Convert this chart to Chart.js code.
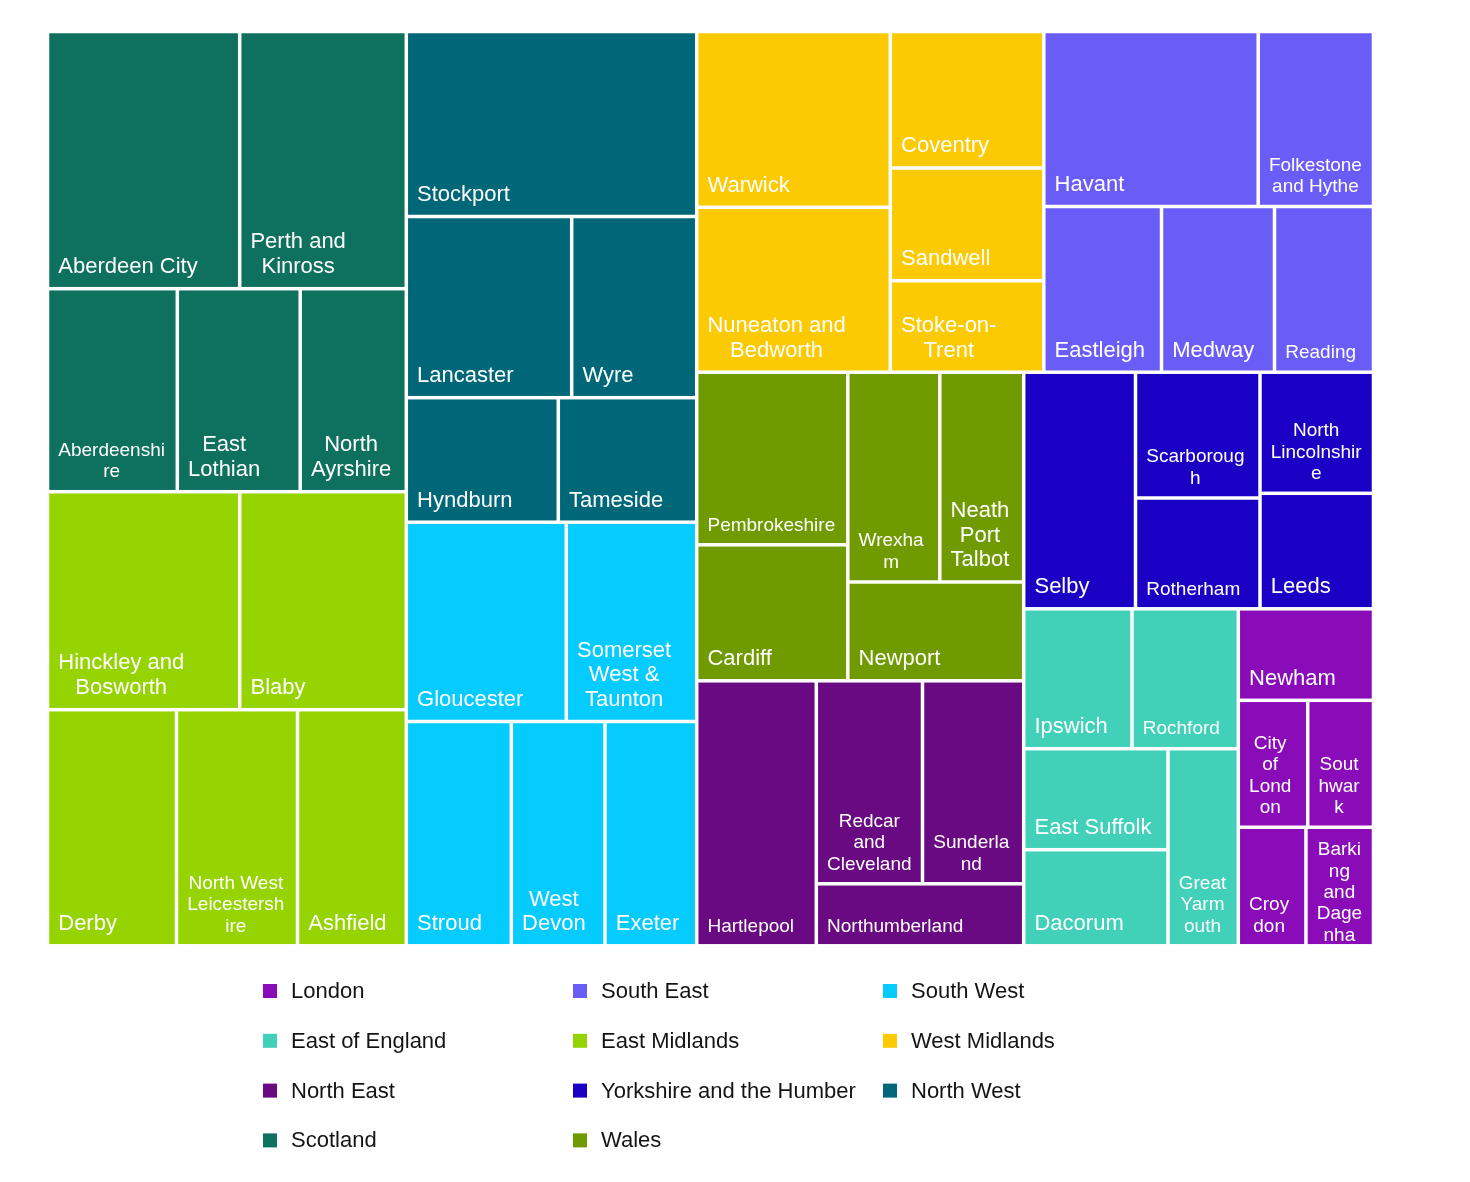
<!DOCTYPE html>
<html>
<head>
<meta charset="utf-8">
<script src="https://cdn.jsdelivr.net/npm/chart.js@4.4.1/dist/chart.umd.min.js"></script>
<style>
  html, body { margin: 0; background: #ffffff; }
</style>
</head>
<body>
<canvas id="treemap" width="1470" height="1182"></canvas>
<script>
// regions, in legend order
const regionNames = ['London', 'South East', 'South West', 'East of England', 'East Midlands',
  'West Midlands', 'North East', 'Yorkshire and the Humber', 'North West', 'Scotland', 'Wales'];
const regionColors = ['#8a0bb8', '#6a5cf6', '#05cbff', '#41d0b8', '#95d400',
  '#fbca03', '#6a0a82', '#1a00c4', '#006778', '#0d715e', '#709b00'];

// local areas and their values (arbitrary units)
const londonAreas = ['Newham', 'City of London', 'Southwark', 'Croydon', 'Barking and Dagenham'];
const londonValues = [12371, 8807, 8350, 8020, 8010];
const southEastAreas = ['Havant', 'Folkestone and Hythe', 'Eastleigh', 'Medway', 'Reading'];
const southEastValues = [37520, 20178, 19503, 18724, 16404];
const southWestAreas = ['Gloucester', 'Somerset West & Taunton', 'Stroud', 'West Devon', 'Exeter'];
const southWestValues = [31888, 25989, 23552, 21017, 20568];
const eastEnglandAreas = ['Ipswich', 'Rochford', 'East Suffolk', 'Dacorum', 'Great Yarmouth'];
const eastEnglandValues = [15151, 14871, 14574, 13867, 13856];
const eastMidlandsAreas = ['Hinckley and Bosworth', 'Blaby', 'Derby', 'North West Leicestershire', 'Ashfield'];
const eastMidlandsValues = [41900, 36319, 30457, 28568, 25688];
const westMidlandsAreas = ['Warwick', 'Nuneaton and Bedworth', 'Coventry', 'Sandwell', 'Stoke-on-Trent'];
const westMidlandsValues = [34035, 31925, 20953, 17299, 14045];
const northEastAreas = ['Hartlepool', 'Redcar and Cleveland', 'Sunderland', 'Northumberland'];
const northEastValues = [31694, 21559, 20544, 12859];
const yorkshireAreas = ['Selby', 'Scarborough', 'Rotherham', 'North Lincolnshire', 'Leeds'];
const yorkshireValues = [26452, 15662, 13795, 13745, 13109];
const northWestAreas = ['Stockport', 'Lancaster', 'Wyre', 'Hyndburn', 'Tameside'];
const northWestValues = [53724, 29970, 22650, 18924, 17231];
const scotlandAreas = ['Aberdeen City', 'Perth and Kinross', 'Aberdeenshire', 'East Lothian', 'North Ayrshire'];
const scotlandValues = [49434, 42850, 26349, 24949, 21538];
const walesAreas = ['Pembrokeshire', 'Cardiff', 'Wrexham', 'Neath Port Talbot', 'Newport'];
const walesValues = [26080, 20550, 19302, 17602, 17379];

const regionAreas = [londonAreas, southEastAreas, southWestAreas, eastEnglandAreas, eastMidlandsAreas,
  westMidlandsAreas, northEastAreas, yorkshireAreas, northWestAreas, scotlandAreas, walesAreas];
const regionValues = [londonValues, southEastValues, southWestValues, eastEnglandValues, eastMidlandsValues,
  westMidlandsValues, northEastValues, yorkshireValues, northWestValues, scotlandValues, walesValues];

const FONT = '"Liberation Sans", Arial, Helvetica, sans-serif';
const TALL = 1.29; // preferred height/width of a tile

// build the tree, biggest first
const groups = regionNames.map((name, i) => {
  const leaves = regionAreas[i].map((a, j) => ({ name: a, value: regionValues[i][j] }))
    .sort((a, b) => b.value - a.value);
  return { name, color: regionColors[i], leaves, value: leaves.reduce((s, l) => s + l.value, 0) };
}).sort((a, b) => b.value - a.value);

function rowScore(areas, thick, alongRow) {
  let worst = 0;
  areas.forEach(a => {
    const len = a / thick;
    const r = alongRow ? thick / len : len / thick;
    worst = Math.max(worst, r / TALL, TALL / r);
  });
  return worst;
}

// squarified layout of sorted values into a rectangle
function squarify(values, x, y, w, h) {
  const total = values.reduce((s, v) => s + v, 0);
  const k = w * h / total;
  const out = [];
  let i = 0;
  while (i < values.length) {
    const alongRow = w < h;
    const side = alongRow ? w : h;
    const areas = [values[i] * k];
    let sum = areas[0];
    let best = rowScore(areas, sum / side, alongRow);
    let j = i + 1;
    while (j < values.length) {
      const a = values[j] * k;
      const s = rowScore(areas.concat(a), (sum + a) / side, alongRow);
      if (s > best) break;
      areas.push(a); sum += a; best = s; j++;
    }
    const thick = sum / side;
    let off = 0;
    areas.forEach(a => {
      const len = a / thick;
      out.push(alongRow ? { x: x + off, y: y, w: len, h: thick } : { x: x, y: y + off, w: thick, h: len });
      off += len;
    });
    if (alongRow) { y += thick; h -= thick; } else { x += thick; w -= thick; }
    i = j;
  }
  return out;
}

// word wrap, breaking inside a word when it is wider than the box
function wrapLabel(ctx, text, maxW) {
  const lines = [];
  let line = '';
  text.split(' ').forEach(word => {
    word.split(/(?<=-)/).forEach((part, idx) => {
      const sep = (idx === 0 && line) ? ' ' : '';
      if (ctx.measureText(line + sep + part).width <= maxW) { line = line + sep + part; return; }
      if (line) lines.push(line);
      let rest = part;
      while (rest.length > 1 && ctx.measureText(rest).width > maxW) {
        let n = rest.length - 1;
        while (n > 1 && ctx.measureText(rest.slice(0, n)).width > maxW) n--;
        lines.push(rest.slice(0, n));
        rest = rest.slice(n);
      }
      line = rest;
    });
  });
  if (line) lines.push(line);
  return lines;
}

function drawLabel(ctx, text, fx, fy, fw, fh) {
  const avail = fw - 17.6;
  ctx.font = '22px ' + FONT;
  const widest = Math.max(...text.split(/ |(?<=-)/).map(t => ctx.measureText(t).width));
  const fs = (widest > avail || fh < 66) ? 19 : 22;
  ctx.font = fs + 'px ' + FONT;
  const lines = wrapLabel(ctx, text, avail);
  const lh = fs * 1.12;
  const blockW = Math.max(...lines.map(l => ctx.measureText(l).width));
  let first = fy + fh - (4 + 0.45 * fs) - (lines.length - 1) * lh;
  first = Math.max(first, fy + 1.39 * fs);
  ctx.save();
  ctx.beginPath();
  ctx.rect(fx, fy, fw, fh);
  ctx.clip();
  ctx.fillStyle = '#ffffff';
  ctx.textBaseline = 'alphabetic';
  if (lines.length === 1) {
    ctx.textAlign = 'left';
    ctx.fillText(lines[0], fx + 9, first);
  } else {
    ctx.textAlign = 'center';
    lines.forEach((l, n) => ctx.fillText(l, fx + 9 + blockW / 2, first + n * lh));
  }
  ctx.restore();
}

const treemapPlugin = {
  id: 'treemap',
  afterDatasetsDraw(chart) {
    const { ctx, chartArea, scales } = chart;
    const W = chartArea.width, H = chartArea.height;
    const gap = 1.75;
    const groupRects = squarify(groups.map(g => g.value), 0, 0, W, H);
    groups.forEach((g, gi) => {
      const gr = groupRects[gi];
      const leafRects = squarify(g.leaves.map(l => l.value), gr.x, gr.y, gr.w, gr.h);
      g.leaves.forEach((leaf, li) => {
        const r = leafRects[li];
        const x0 = scales.x.getPixelForValue(r.x / W), x1 = scales.x.getPixelForValue((r.x + r.w) / W);
        const y0 = scales.y.getPixelForValue(r.y / H), y1 = scales.y.getPixelForValue((r.y + r.h) / H);
        const fx = x0 + gap, fy = y0 + gap, fw = x1 - x0 - 2 * gap, fh = y1 - y0 - 2 * gap;
        ctx.fillStyle = g.color;
        ctx.fillRect(fx, fy, fw, fh);
        drawLabel(ctx, leaf.name, fx, fy, fw, fh);
      });
    });
  }
};

const legendPlugin = {
  id: 'gridLegend',
  afterDraw(chart) {
    const ctx = chart.ctx;
    ctx.save();
    ctx.font = '22px ' + FONT;
    ctx.textBaseline = 'middle';
    ctx.textAlign = 'left';
    regionNames.forEach((name, i) => {
      const col = i % 3, row = Math.floor(i / 3);
      const mx = 263 + col * 310, cy = 991 + row * 49.8;
      ctx.fillStyle = regionColors[i];
      ctx.fillRect(mx, cy - 7, 14, 14);
      ctx.fillStyle = '#141414';
      ctx.fillText(name, mx + 28, cy + 1);
    });
    ctx.restore();
  }
};

new Chart(document.getElementById('treemap').getContext('2d'), {
  type: 'scatter',
  data: { datasets: [] },
  options: {
    responsive: false,
    animation: false,
    layout: { padding: { left: 47.5, top: 31.5, right: 96.5, bottom: 236.2 } },
    scales: {
      x: { type: 'linear', min: 0, max: 1, display: false },
      y: { type: 'linear', min: 0, max: 1, reverse: true, display: false }
    },
    plugins: { legend: { display: false }, tooltip: { enabled: false } }
  },
  plugins: [treemapPlugin, legendPlugin]
});
</script>
</body>
</html>
